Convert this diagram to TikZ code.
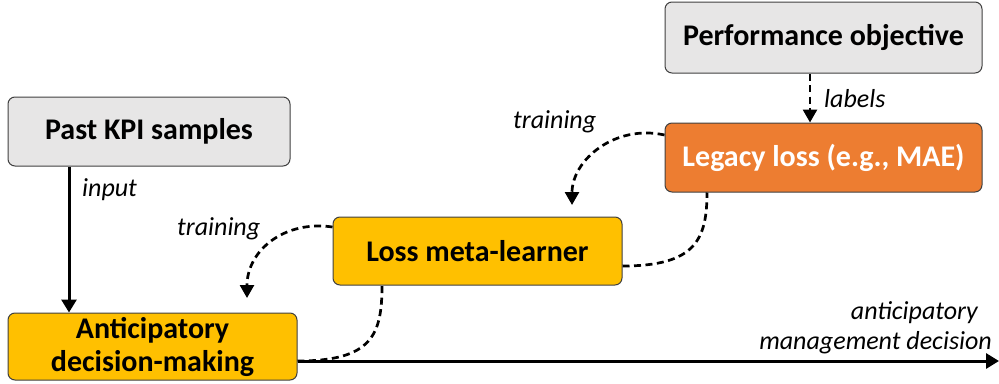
\documentclass[tikz,border=0pt]{standalone}
\usepackage{fontspec}
\setmainfont{Carlito}
\usetikzlibrary{arrows.meta,calc}
\definecolor{boxgray}{HTML}{E7E6E6}
\definecolor{boxorange}{HTML}{ED7D31}
\definecolor{boxgold}{HTML}{FFC000}
\definecolor{boxedge}{HTML}{404040}
\begin{document}
\begin{tikzpicture}[x=1pt,y=-1pt,
  box/.style={draw=boxedge, line width=1pt, rounded corners=7pt,
    font=\bfseries\fontsize{30}{33}\selectfont, align=center, inner sep=0pt},
  flow/.style={line width=3pt, -{Triangle[length=13pt,width=15pt]}},
  loopline/.style={line width=2.7pt, dash pattern=on 7pt off 4.5pt},
  loop/.style={loopline, -{Triangle[length=13pt,width=14pt]}},
  lbl/.style={font=\itshape\fontsize{26}{30}\selectfont, inner sep=0pt}]
\useasboundingbox (0,0) rectangle (999,383);

% boxes
\node[box, fill=boxgray, minimum width=282pt, minimum height=69pt] (past) at (149,131.5) {Past KPI samples};
\node[box, fill=boxgray, minimum width=317pt, minimum height=71pt] (perf) at (823.5,37.5) {Performance objective};
\node[box, fill=boxorange, text=white, minimum width=317pt, minimum height=69pt] (legacy) at (823.5,157.5) {Legacy loss (e.g., MAE)};
\node[box, fill=boxgold, minimum width=289pt, minimum height=68pt] (meta) at (477.5,251) {Loss meta-learner};
\node[box, fill=boxgold, minimum width=289pt, minimum height=67pt] (antic) at (152.5,346.5) {Anticipatory\\decision-making};

% free ends
\coordinate (t1) at (247,298);
\coordinate (t2) at (572,205);
\coordinate (out) at (999,361);

% solid flow
\draw[flow] ([xshift=-80pt]past.south) -- ([xshift=-80pt]past.south |- antic.north);
\draw[flow] ([yshift=-14.5pt]antic.east) -- (out);

% training loops
\draw[loopline] ([yshift=-14.5pt]antic.east) .. controls (372,361) and (382,335) .. ([xshift=-95.5pt]meta.south);
\draw[loop] ([yshift=24pt]meta.west) .. controls (285,220) and (247,250) .. (t1);
\draw[loopline] ([yshift=-15pt]meta.east) .. controls (695,266) and (707,240) .. ([xshift=-116.5pt]legacy.south);
\draw[loop] ([yshift=22.5pt]legacy.west) .. controls (615,124) and (572,160) .. (t2);
\draw[loop] ([xshift=-13.5pt]perf.south) -- ([xshift=-13.5pt]legacy.north);

% labels
\node[lbl, anchor=west] (inl) at (82,190) {input};
\node[lbl, anchor=west] (labl) at (824,99) {labels};
\node[lbl, anchor=west] (tr1) at (513,122) {training};
\node[lbl, anchor=west] (tr2) at (177,229) {training};
\node[lbl, anchor=east] (ant) at (978,313) {anticipatory};
\node[lbl, anchor=east] (mgd) at (992,343) {management decision};
\end{tikzpicture}
\end{document}
